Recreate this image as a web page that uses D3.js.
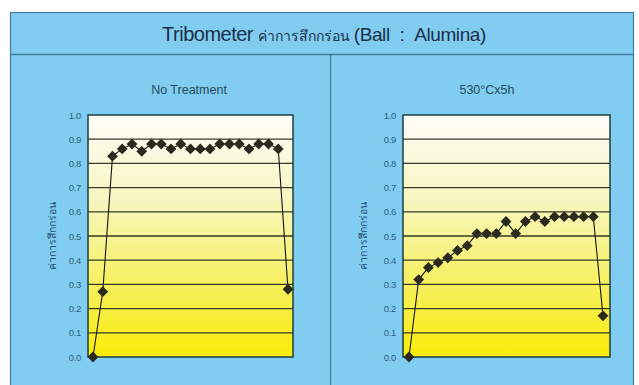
<!DOCTYPE html>
<html><head><meta charset="utf-8">
<script src="https://cdn.jsdelivr.net/npm/d3@7"></script>
<style>body{margin:0;background:#fff}svg{display:block}</style>
</head><body>
<svg id="c" width="639" height="385"></svg>
<script>
const titleLatin = "Tribometer";
const titleThai = "ค่าการสึกกร่อน";
const titleTail = "(Ball\u00a0\u00a0:\u00a0\u00a0Alumina)";
const yLabel = "ค่าการสึกกร่อน";
const panelTitles = ["No Treatment", "530°Cx5h"];
const steps = d3.range(1, 22);
const noTreatment = [0, 0.27, 0.83, 0.86, 0.88, 0.85, 0.88, 0.88, 0.86, 0.88, 0.86, 0.86, 0.86, 0.88, 0.88, 0.88, 0.86, 0.88, 0.88, 0.86, 0.28];
const treated530 = [0, 0.32, 0.37, 0.39, 0.41, 0.44, 0.46, 0.51, 0.51, 0.51, 0.56, 0.51, 0.56, 0.58, 0.56, 0.58, 0.58, 0.58, 0.58, 0.58, 0.17];
const yTicks = [0, 0.1, 0.2, 0.3, 0.4, 0.5, 0.6, 0.7, 0.8, 0.9, 1.0];

const svg = d3.select("#c");
const blue = "#80cdf1";
const frameCol = "#3f7d9c";

svg.append("rect").attr("x", 10.5).attr("y", 12.5).attr("width", 623).attr("height", 380)
  .attr("fill", blue).attr("stroke", frameCol).attr("stroke-width", 1.2);
svg.append("line").attr("x1", 10).attr("x2", 634).attr("y1", 54.5).attr("y2", 54.5)
  .attr("stroke", frameCol).attr("stroke-width", 1.4);
svg.append("line").attr("x1", 330.5).attr("x2", 330.5).attr("y1", 55).attr("y2", 385)
  .attr("stroke", frameCol).attr("stroke-width", 1.2);

const t = svg.append("text").attr("x", 324).attr("y", 41).attr("text-anchor", "middle")
  .attr("fill", "#1c2f4a").attr("font-family", "Liberation Sans, Arial, sans-serif");
t.append("tspan").attr("font-size", 20).attr("letter-spacing", -0.5).text(titleLatin + " ");
t.append("tspan").attr("font-size", 14).attr("font-family", "Noto Sans, sans-serif").text(titleThai + " ");
t.append("tspan").attr("font-size", 19).attr("letter-spacing", -0.4).text(titleTail);

const defs = svg.append("defs");
const grad = defs.append("linearGradient").attr("id", "yel").attr("x1", 0).attr("x2", 0).attr("y1", 0).attr("y2", 1);
grad.append("stop").attr("offset", "0%").attr("stop-color", "#fdfdfa");
grad.append("stop").attr("offset", "35%").attr("stop-color", "#f8f6c0");
grad.append("stop").attr("offset", "70%").attr("stop-color", "#f6f05e");
grad.append("stop").attr("offset", "100%").attr("stop-color", "#f8ec08");

const panels = [
  {left: 88, right: 293, data: noTreatment, title: panelTitles[0], titleX: 189, labelX: 56, padL: 5, padR: 5},
  {left: 403, right: 610, data: treated530, title: panelTitles[1], titleX: 487, labelX: 367, padL: 6, padR: 7}
];
const plotTop = 115, plotBottom = 357;

panels.forEach(p => {
  const g = svg.append("g");
  const y = d3.scaleLinear().domain([0, 1]).range([plotBottom, plotTop]);
  const x = d3.scaleLinear().domain([0, steps.length - 1]).range([p.left + p.padL, p.right - p.padR]);

  g.append("rect").attr("x", p.left).attr("y", plotTop).attr("width", p.right - p.left).attr("height", plotBottom - plotTop)
    .attr("fill", "url(#yel)");
  g.selectAll(".grid").data(yTicks.slice(1, -1)).join("line")
    .attr("x1", p.left).attr("x2", p.right).attr("y1", d => y(d)).attr("y2", d => y(d))
    .attr("stroke", "#3a3a2a").attr("stroke-width", 1.3);
  g.append("rect").attr("x", p.left).attr("y", plotTop).attr("width", p.right - p.left).attr("height", plotBottom - plotTop)
    .attr("fill", "none").attr("stroke", "#1c3d3d").attr("stroke-width", 1.5);

  const axis = d3.axisLeft(y).tickValues(yTicks).tickFormat(d3.format(".1f")).tickSize(0).tickPadding(7);
  const ag = g.append("g").attr("transform", `translate(${p.left},0)`).call(axis);
  ag.select(".domain").remove();
  ag.selectAll("text").attr("font-family", "Liberation Sans, Arial, sans-serif").attr("font-size", 9.5)
    .attr("fill", "#2f5f80").attr("letter-spacing", -0.3);

  g.append("text").attr("x", p.titleX).attr("y", 94).attr("text-anchor", "middle")
    .attr("font-family", "Liberation Sans, Arial, sans-serif").attr("font-size", 12.5)
    .attr("fill", "#264a60").text(p.title);

  g.append("text").attr("transform", `translate(${p.labelX},${(plotTop + plotBottom) / 2}) rotate(-90)`)
    .attr("text-anchor", "middle").attr("font-family", "Noto Sans, sans-serif").attr("font-size", 10.5)
    .attr("fill", "#2a5070").text(yLabel);

  const line = d3.line().x((d, i) => x(i)).y(d => y(d));
  g.append("path").datum(p.data).attr("d", line).attr("fill", "none").attr("stroke", "#151510").attr("stroke-width", 1.1);
  g.selectAll(".pt").data(p.data).join("path")
    .attr("d", d3.symbol().type(d3.symbolDiamond2).size(75))
    .attr("transform", (d, i) => `translate(${x(i)},${y(d)})`)
    .attr("fill", "#2b2a1e");
});
</script>
</body></html>
